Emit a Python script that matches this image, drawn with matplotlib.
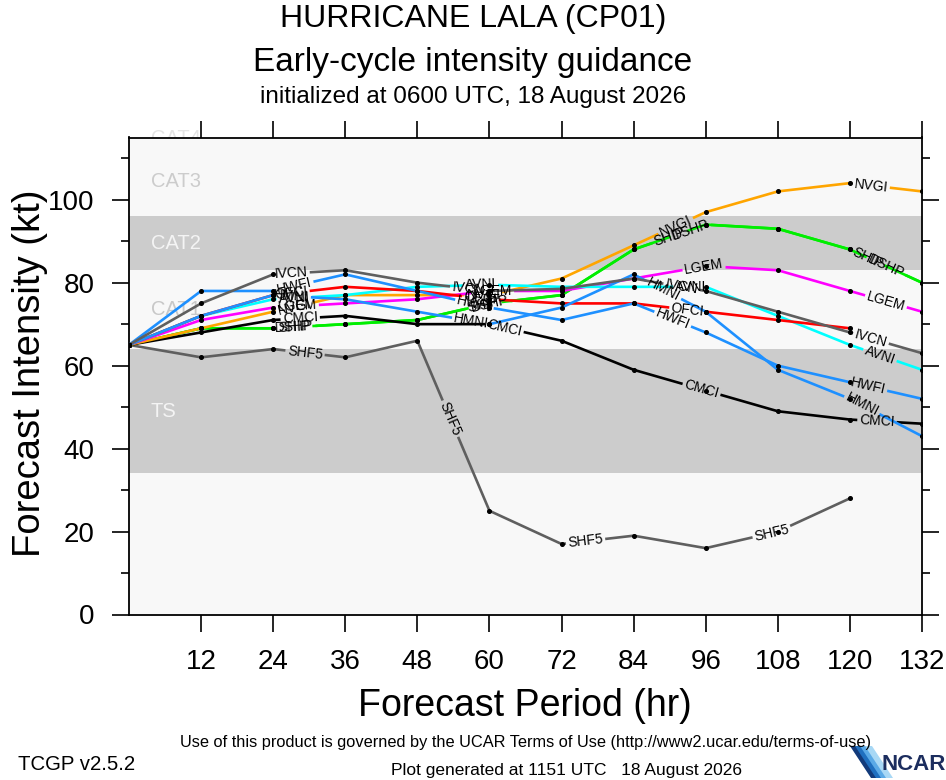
import numpy as np
import matplotlib
matplotlib.use('Agg')
import matplotlib.pyplot as plt
from matplotlib.patches import Polygon

NARROW = ['Liberation Sans Narrow', 'Liberation Sans', 'DejaVu Sans']
REGULAR = ['Liberation Sans', 'DejaVu Sans']
plt.rcParams['font.family'] = NARROW

# forecast hours and model intensities (kt)
hours = [0, 12, 24, 36, 48, 60, 72, 84, 96, 108, 120, 132]

ivcn = [65, 75, 82, 83, 80, 78, 78.5, 81, 78, 73, 68, 63]
hwfi = [65, 78, 78, 82, 78, 74, 71, 75, 68, 60, 56, 52]
hmni = [65, 72, 77, 76, 73, 70, 74, 82, 73, 59, 52, 43]
ofci = [65, 72, 77, 79, 78, 76, 75, 75, 73, 71, 69]
avni = [65, 72, 76, 77, 79, 79.5, 79, 79, 79, 72, 65, 59]
lgem = [65, 71, 74, 75, 76, 78, 78, 81, 84, 83, 78, 73]
nvgi = [65, 69, 73, 77, 77, 77, 81, 89, 97, 102, 104, 102]
ship = [65, 69, 69, 70, 71, 75, 77, 88, 94, 93, 88, 80]
dshp = [65, 69, 69, 70, 71, 75, 77, 88, 94, 93, 88, 80]
cmci = [65, 68, 71, 72, 70, 70, 66, 59, 54, 49, 47, 46]
shf5 = [65, 62, 64, 62, 66, 25, 17, 19, 16, 20, 28]

# where the line labels sit (forecast hour of label centre)
lab_ivcn = [27, 56.5, 92, 123.5]
lab_hwfi = [27.5, 57.5, 90.5, 123]
lab_hmni = [27, 57, 89, 122]
lab_ofci = [27, 58.5, 93]
lab_avni = [27.5, 58.5, 93.5, 125]
lab_lgem = [28, 60.5, 95.7, 126]
lab_nvgi = [27.5, 59, 91, 123.5]
lab_ship = [27.5, 59, 90, 123]
lab_dshp = [27.5, 60, 93.5, 126]
lab_cmci = [28.5, 62.5, 95.3, 124.5]
lab_shf5 = [29.3, 53.5, 76, 107]

models = [
    ('SHF5', shf5, lab_shf5, '#5f5f5f'),
    ('DSHP', dshp, lab_dshp, '#00ee00'),
    ('SHIP', ship, lab_ship, '#00ee00'),
    ('CMCI', cmci, lab_cmci, 'black'),
    ('NVGI', nvgi, lab_nvgi, '#ffa500'),
    ('LGEM', lgem, lab_lgem, '#ff00ff'),
    ('AVNI', avni, lab_avni, '#00ffff'),
    ('OFCI', ofci, lab_ofci, '#ff0000'),
    ('HMNI', hmni, lab_hmni, '#1e90ff'),
    ('HWFI', hwfi, lab_hwfi, '#1e90ff'),
    ('IVCN', ivcn, lab_ivcn, '#5f5f5f'),
]

# intensity bands
band_lo = [0, 34, 64, 83, 96]
band_hi = [34, 64, 83, 96, 140]
band_fill = ['#f8f8f8', '#cccccc', '#f8f8f8', '#cccccc', '#f8f8f8']
band_name = ['', 'TS', 'CAT1', 'CAT2', 'CAT3']
band_tcol = ['#cccccc', '#f4f4f4', '#c8c8c8', '#f4f4f4', '#cccccc']

W, H = 946, 780
fig = plt.figure(figsize=(W / 100, H / 100), dpi=100)
L, R, T, B = 129, 922, 137.5, 614.5
ax = fig.add_axes([L / W, 1 - B / H, (R - L) / W, (B - T) / H])
ax.set_xlim(0, 132)
ax.set_ylim(0, 115)
ax.set_facecolor('#f8f8f8')

for lo, hi, fc, nm, tc in zip(band_lo, band_hi, band_fill, band_name, band_tcol):
    ax.axhspan(lo, hi, color=fc, lw=0, zorder=0)
    if nm:
        ax.text(3.6, (lo + min(hi, 113)) / 2, nm, color=tc, fontsize=14.5,
                family=REGULAR, ha='left', va='center', zorder=0.5)
# CAT4 label peeking out above the frame, behind the plot area
fig.text(151 / W, 1 - 138 / H, 'CAT4', color='#e4e4e4', fontsize=14.5,
         family=REGULAR, ha='left', va='center', zorder=-1)

renderer = fig.canvas.get_renderer()


def point_at(P, s, sv):
    return np.interp(s, sv, P[:, 0]), np.interp(s, sv, P[:, 1])


z = 2
for name, vals, labs, col in models:
    xs = np.array(hours[:len(vals)], float)
    ys = np.array(vals, float)
    P = ax.transData.transform(np.column_stack([xs, ys]))
    seg = np.hypot(*np.diff(P, axis=0).T)
    sv = np.concatenate([[0], np.cumsum(seg)])
    cuts = []
    for hc in labs:
        xd = ax.transData.transform((hc, 0))[0]
        i = min(np.searchsorted(P[:, 0], xd) - 1, len(P) - 2)
        i = max(i, 0)
        t = (xd - P[i, 0]) / (P[i + 1, 0] - P[i, 0])
        sc = sv[i] + t * seg[i]
        cx, cy = point_at(P, sc, sv)
        ang = np.degrees(np.arctan2(P[i + 1, 1] - P[i, 1], P[i + 1, 0] - P[i, 0]))
        dx, dy = ax.transData.inverted().transform((cx, cy))
        txt = ax.text(dx, dy, name, fontsize=10, family=REGULAR, color='black',
                      ha='center', va='center', rotation_mode='anchor', zorder=50)
        w = txt.get_window_extent(renderer).width
        txt.set_rotation(ang)
        cuts.append((sc - w / 2 - 2, sc + w / 2 + 2))
    # the line, with gaps where its own labels are
    marks = sorted(set(list(sv) + [c for ab in cuts for c in ab if 0 < c < sv[-1]]))
    pts = []
    for a, b in zip(marks[:-1], marks[1:]):
        m = (a + b) / 2
        if any(lo < m < hi for lo, hi in cuts):
            pts.append((np.nan, np.nan))
            continue
        pts.append(point_at(P, a, sv))
        pts.append(point_at(P, b, sv))
    pts = np.array(pts)
    good = ~np.isnan(pts[:, 0])
    dat = np.full_like(pts, np.nan)
    dat[good] = ax.transData.inverted().transform(pts[good])
    ax.plot(dat[:, 0], dat[:, 1], color=col, lw=1.9, solid_capstyle='butt', zorder=z)
    ax.plot(xs, ys, 'o', color='black', ms=2.6, zorder=30)
    z += 1

# axes, ticks
for sp in ax.spines.values():
    sp.set_linewidth(1.3)
ax.set_xticks(hours[1:])
ax.set_xticklabels([str(h) for h in hours[1:]])
ax.set_yticks(range(0, 101, 20))
ax.set_yticks(range(10, 111, 20), minor=True)
ax.tick_params(axis='x', which='major', direction='out', length=12, width=1.2,
               pad=13, labelsize=20, top=True, bottom=True)
ax.tick_params(axis='y', which='major', direction='out', length=12, width=1.2,
               pad=13, labelsize=20, left=True, right=True)
ax.tick_params(axis='y', which='minor', direction='out', length=6, width=1.2,
               left=True, right=True)

# titles
fig.text(473 / W, 1 - 19 / H, 'HURRICANE LALA (CP01)', family=REGULAR,
         fontsize=23, ha='center', va='center')
fig.text(473 / W, 1 - 62 / H, 'Early-cycle intensity guidance', family=REGULAR,
         fontsize=24, ha='center', va='center')
fig.text(473 / W, 1 - 97 / H, 'initialized at 0600 UTC, 18 August 2026',
         family=REGULAR, fontsize=17.5, ha='center', va='center')

fig.text(525 / W, 1 - 706 / H, 'Forecast Period (hr)', fontsize=27,
         ha='center', va='center')
fig.text(30 / W, 1 - 373 / H, 'Forecast Intensity (kt)', fontsize=27.5,
         rotation=90, ha='center', va='center')

# footer
fig.text(526 / W, 1 - 742 / H,
         'Use of this product is governed by the UCAR Terms of Use '
         '(http://www2.ucar.edu/terms-of-use)', fontsize=11.8, ha='center', va='center')
fig.text(18 / W, 1 - 765 / H, 'TCGP v2.5.2', fontsize=14.7, ha='left', va='center')
fig.text(566 / W, 1 - 770 / H, 'Plot generated at 1151 UTC   18 August 2026',
         fontsize=12.5, ha='center', va='center')


# NCAR logo
def px(x, y):
    return (x / W, 1 - y / H)


for k, c in enumerate(['#123a7a', '#1f6fbf', '#5aa9e6', '#a8d8f5']):
    x0 = 850 + k * 5
    fig.add_artist(Polygon([px(x0, 746), px(x0 + 7, 746), px(x0 + 28, 778),
                            px(x0 + 21, 778)], closed=True, color=c,
                           transform=fig.transFigure, lw=0))
fig.text(946 / W, 1 - 765 / H, 'NCAR', fontsize=16, fontweight='bold',
         color='#1c2d5e', ha='right', va='center')

fig.savefig('out.png', dpi=100)
